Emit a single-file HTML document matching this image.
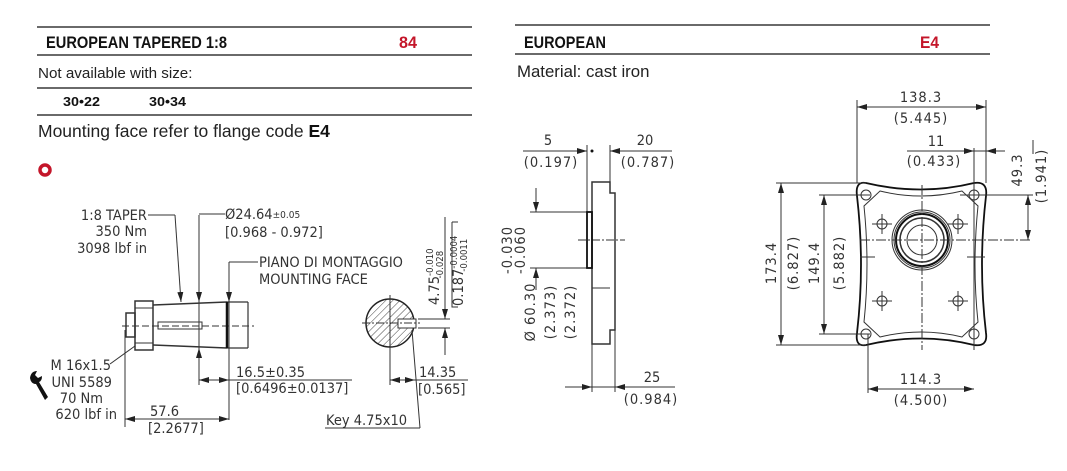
<!DOCTYPE html>
<html><head><meta charset="utf-8"><style>
html,body{margin:0;padding:0;background:#fff;}
svg{display:block;}
.h{font-family:"Liberation Sans",sans-serif;font-weight:bold;}
.t{font-family:"Liberation Sans",sans-serif;fill:#222;}
.d{font-family:"DejaVu Sans Condensed","Liberation Sans",sans-serif;fill:#333;font-size:14.5px;}
.l{stroke:#333;stroke-width:1;fill:none;}
.c{stroke:#333;stroke-width:0.8;fill:none;stroke-dasharray:8 2 2 2;}
</style></head><body>
<svg width="1067" height="471" viewBox="0 0 1067 471" xmlns="http://www.w3.org/2000/svg">
<defs>
<marker id="a" viewBox="0 0 10 6" refX="10" refY="3" markerWidth="10" markerHeight="6" orient="auto-start-reverse" markerUnits="userSpaceOnUse"><path d="M0,0 L10,3 L0,6 z" fill="#222"/></marker>
<pattern id="hp" width="5" height="5" patternUnits="userSpaceOnUse" patternTransform="rotate(45)"><line x1="0" y1="0" x2="0" y2="5" stroke="#444" stroke-width="1"/></pattern>
</defs>
<g stroke="#111" stroke-width="1.3">
<line x1="37" y1="27" x2="472" y2="27"/><line x1="37" y1="55" x2="472" y2="55"/>
<line x1="37" y1="88" x2="472" y2="88"/><line x1="37" y1="115" x2="472" y2="115"/>
<line x1="515" y1="25" x2="990" y2="25"/><line x1="515" y1="54" x2="990" y2="54"/>
</g>
<text class="h" x="46" y="48" font-size="17" textLength="181" lengthAdjust="spacingAndGlyphs" fill="#111">EUROPEAN TAPERED 1:8</text>
<text class="h" x="399" y="48" font-size="17" textLength="18" lengthAdjust="spacingAndGlyphs" fill="#c4162a">84</text>
<text class="t" x="38" y="78" font-size="15.2">Not available with size:</text>
<text class="h" x="63" y="106" font-size="13" textLength="37" lengthAdjust="spacingAndGlyphs" fill="#111">30•22</text>
<text class="h" x="149" y="106" font-size="13" textLength="37" lengthAdjust="spacingAndGlyphs" fill="#111">30•34</text>
<text class="t" x="38" y="137" font-size="17.5">Mounting face refer to flange code <tspan font-weight="bold" fill="#111">E4</tspan></text>
<circle cx="45" cy="170" r="5" fill="none" stroke="#c4162a" stroke-width="3.5"/>
<text class="h" x="524" y="48" font-size="17" textLength="82" lengthAdjust="spacingAndGlyphs" fill="#111">EUROPEAN</text>
<text class="h" x="920" y="48" font-size="17" textLength="19" lengthAdjust="spacingAndGlyphs" fill="#c4162a">E4</text>
<text class="t" x="517" y="77" font-size="16.8">Material: cast iron</text>

<!-- shaft drawing -->
<g class="l">
<rect x="126" y="313" width="9" height="24" stroke-width="1.5"/>
<rect x="135" y="301" width="18" height="49" stroke-width="1.5"/>
<line x1="135" y1="308" x2="153" y2="308"/><line x1="135" y1="343" x2="153" y2="343"/>
<path d="M153,305 L227,302 M153,345 L227,348" stroke-width="1.5"/>
<path d="M227,302 L248,302 M227,348 L248,348 M248,302 L248,348" stroke-width="1.2"/>
<rect x="158" y="322" width="44" height="7"/>
<line x1="122" y1="326" x2="254" y2="326" stroke-dasharray="7 3"/>
<line x1="199" y1="215" x2="199" y2="385"/>
<line x1="229" y1="262" x2="229" y2="420"/>
<line x1="125" y1="330" x2="125" y2="427"/>
<line x1="148" y1="215" x2="175" y2="215"/><line x1="175" y1="215" x2="181" y2="302" marker-end="url(#a)"/>
<line x1="199" y1="214" x2="225" y2="214"/>
<line x1="199" y1="230" x2="199" y2="302" marker-end="url(#a)"/>
<line x1="199" y1="372" x2="199" y2="348" marker-end="url(#a)"/>
<line x1="229" y1="262" x2="258" y2="262"/>
<line x1="229" y1="270" x2="229" y2="302" marker-end="url(#a)"/>
<line x1="199" y1="380" x2="352" y2="380"/>
<line x1="199" y1="380" x2="229" y2="380" marker-start="url(#a)" marker-end="url(#a)"/>
<line x1="125" y1="419" x2="229" y2="419" marker-start="url(#a)" marker-end="url(#a)"/>
<line x1="110" y1="364" x2="135" y2="346"/>
</g>
<line x1="227" y1="302" x2="227" y2="348" stroke="#111" stroke-width="2.5"/>
<text class="d" x="147" y="220" text-anchor="end">1:8 TAPER</text>
<text class="d" x="147" y="236" text-anchor="end">350 Nm</text>
<text class="d" x="147" y="253" text-anchor="end">3098 lbf in</text>
<text class="d" x="225" y="219">Ø24.64<tspan font-size="10" dy="-1">±0.05</tspan></text>
<text class="d" x="225" y="237">[0.968 - 0.972]</text>
<text class="d" x="259" y="267">PIANO DI MONTAGGIO</text>
<text class="d" x="259" y="284">MOUNTING FACE</text>
<text class="d" x="236" y="377">16.5±0.35</text>
<text class="d" x="236" y="393">[0.6496±0.0137]</text>
<text class="d" x="150" y="416">57.6</text>
<text class="d" x="148" y="433">[2.2677]</text>
<text class="d" x="111" y="370" text-anchor="end">M 16x1.5</text>
<text class="d" x="112" y="387" text-anchor="end">UNI 5589</text>
<text class="d" x="103" y="403" text-anchor="end">70 Nm</text>
<text class="d" x="117" y="419" text-anchor="end">620 lbf in</text>
<path d="M30,378 Q31,371 37,371 L35,375 L38,378 L42,376 Q42,381 39,382 L48,397 L45,400 L36,384 Q31,384 30,378 z" fill="#111"/>

<!-- section -->
<circle cx="390" cy="323" r="24" fill="url(#hp)" stroke="#222" stroke-width="1.5"/>
<rect x="398" y="319" width="18" height="9" fill="#fff" stroke="#333"/>
<g class="l">
<line x1="362" y1="323" x2="420" y2="323" stroke-dasharray="8 2 2 2"/>
<line x1="390" y1="295" x2="390" y2="385"/>
<line x1="418" y1="319" x2="450" y2="319"/><line x1="418" y1="328" x2="450" y2="328"/>
<line x1="445" y1="217" x2="445" y2="319" marker-end="url(#a)"/>
<line x1="445" y1="355" x2="445" y2="328" marker-end="url(#a)"/>
<path d="M452,222 L458,222 M452,222 L452,307 L458,307"/>
<line x1="390" y1="380" x2="468" y2="380"/>
<line x1="390" y1="380" x2="415" y2="380" marker-start="url(#a)" marker-end="url(#a)"/>
<line x1="412" y1="330" x2="420" y2="428"/>
<line x1="325" y1="428" x2="420" y2="428"/>
</g>
<text class="d" transform="translate(439,305) rotate(-90)">4.75<tspan font-size="9.5" dy="-6">-0.010</tspan><tspan font-size="9.5" dx="-30" dy="10">-0.028</tspan></text>
<text class="d" transform="translate(463,306) rotate(-90)">0.187<tspan font-size="9.5" dy="-6">-0.0004</tspan><tspan font-size="9.5" dx="-36" dy="10">-0.0011</tspan></text>
<text class="d" x="419" y="377">14.35</text>
<text class="d" x="418" y="394">[0.565]</text>
<text class="d" x="326" y="425">Key 4.75x10</text>

<!-- flange side view -->
<g class="l">
<path d="M592,182 L610,182 L610,193 L615,193 L615,330 L610,330 L610,344 L592,344 z" stroke-width="1.5"/>
<line x1="592" y1="288" x2="610" y2="288"/>
<line x1="578" y1="240" x2="625" y2="240" stroke-dasharray="8 2 2 2"/>
<line x1="587" y1="145" x2="587" y2="212"/><line x1="592" y1="344" x2="592" y2="392"/>
<line x1="610" y1="145" x2="610" y2="182"/><line x1="615" y1="330" x2="615" y2="392"/>
<line x1="523" y1="151" x2="587" y2="151"/><line x1="565" y1="151" x2="587" y2="151" marker-end="url(#a)"/>
<line x1="610" y1="151" x2="672" y2="151"/><line x1="632" y1="151" x2="610" y2="151" marker-end="url(#a)"/>
<line x1="565" y1="387" x2="675" y2="387"/>
<line x1="575" y1="387" x2="592" y2="387" marker-end="url(#a)"/>
<line x1="632" y1="387" x2="615" y2="387" marker-end="url(#a)"/>
<line x1="530" y1="212" x2="587" y2="212"/><line x1="530" y1="268" x2="587" y2="268"/>
<line x1="536" y1="188" x2="536" y2="212" marker-end="url(#a)"/>
<line x1="536" y1="290" x2="536" y2="268" marker-end="url(#a)"/>
</g>
<rect x="587" y="212" width="5" height="56" fill="none" stroke="#111" stroke-width="1.8"/>
<circle cx="592" cy="151" r="1.5" fill="#111"/>
<text class="d" x="548" y="145" text-anchor="middle">5</text>
<text class="d" x="551" y="167" text-anchor="middle" letter-spacing="1">(0.197)</text>
<text class="d" x="645" y="145" text-anchor="middle">20</text>
<text class="d" x="648" y="167" text-anchor="middle" letter-spacing="1">(0.787)</text>
<text class="d" x="652" y="382" text-anchor="middle">25</text>
<text class="d" x="651" y="404" text-anchor="middle" letter-spacing="1">(0.984)</text>
<text class="d" transform="translate(512,250) rotate(-90)" text-anchor="middle" letter-spacing="1">-0.030</text>
<text class="d" transform="translate(525,250) rotate(-90)" text-anchor="middle" letter-spacing="1">-0.060</text>
<text class="d" transform="translate(535,312) rotate(-90)" text-anchor="middle" letter-spacing="1">Ø 60.30</text>
<text class="d" transform="translate(555,312) rotate(-90)" text-anchor="middle" letter-spacing="1">(2.373)</text>
<text class="d" transform="translate(575,312) rotate(-90)" text-anchor="middle" letter-spacing="1">(2.372)</text>

<!-- flange front view -->
<g class="l">
<path d="M866,183 Q921,196 974,183 Q988,181 986,196 Q978,265 986,333 Q988,347 974,345 Q921,332 866,345 Q855,347 857,333 Q865,265 857,196 Q855,181 866,183 z" stroke="#111" stroke-width="1.8"/>
<path d="M880,191 Q921,201 962,191 L978,206 Q972,265 978,322 L962,337 Q921,327 880,337 L864,322 Q870,265 864,206 z" stroke-width="1"/>
<circle cx="866" cy="195" r="5"/><circle cx="974" cy="195" r="5"/>
<circle cx="866" cy="334" r="5"/><circle cx="974" cy="334" r="5"/>
<circle cx="882" cy="224" r="5"/><circle cx="958" cy="224" r="5"/>
<circle cx="882" cy="301" r="5"/><circle cx="958" cy="301" r="5"/>
<circle cx="922" cy="240" r="30"/><circle cx="922" cy="240" r="28"/>
<circle cx="922" cy="240" r="26" stroke="#111" stroke-width="2"/>
<circle cx="922" cy="240" r="22" stroke-width="1.5"/>
<circle cx="922" cy="240" r="15"/>
<path d="M872,224 L892,224 M882,214 L882,234 M948,224 L968,224 M958,214 L958,234 M872,301 L892,301 M882,291 L882,311 M948,301 L968,301 M958,291 L958,311"/>
<line x1="922" y1="185" x2="922" y2="350" stroke-dasharray="10 2 2 2"/>
<line x1="860" y1="240" x2="1032" y2="240" stroke-dasharray="10 2 2 2"/>
<path d="M860,257 L875,257 M967,257 L985,257"/>
<line x1="857" y1="100" x2="857" y2="183"/><line x1="986" y1="100" x2="986" y2="183"/>
<line x1="857" y1="107" x2="986" y2="107" marker-start="url(#a)" marker-end="url(#a)"/>
<line x1="974" y1="148" x2="974" y2="350"/>
<line x1="907" y1="151" x2="1005" y2="151"/>
<line x1="960" y1="151" x2="974" y2="151" marker-end="url(#a)"/>
<line x1="1000" y1="151" x2="986" y2="151" marker-end="url(#a)"/>
<line x1="1033" y1="140" x2="1033" y2="154"/>
<line x1="960" y1="195" x2="1033" y2="195"/>
<line x1="1028" y1="195" x2="1028" y2="240" marker-start="url(#a)" marker-end="url(#a)"/>
<line x1="776" y1="183" x2="866" y2="183"/><line x1="776" y1="345" x2="866" y2="345"/>
<line x1="781" y1="183" x2="781" y2="345" marker-start="url(#a)" marker-end="url(#a)"/>
<line x1="819" y1="195" x2="870" y2="195"/><line x1="819" y1="334" x2="870" y2="334"/>
<line x1="824" y1="195" x2="824" y2="334" marker-start="url(#a)" marker-end="url(#a)"/>
<line x1="868" y1="334" x2="868" y2="393"/>
<line x1="868" y1="389" x2="974" y2="389" marker-start="url(#a)" marker-end="url(#a)"/>
</g>
<text class="d" x="921" y="102" text-anchor="middle" letter-spacing="1">138.3</text>
<text class="d" x="921" y="123" text-anchor="middle" letter-spacing="1">(5.445)</text>
<text class="d" x="936" y="146" text-anchor="middle">11</text>
<text class="d" x="934" y="166" text-anchor="middle" letter-spacing="1">(0.433)</text>
<text class="d" transform="translate(1022,170) rotate(-90)" text-anchor="middle" letter-spacing="1">49.3</text>
<text class="d" transform="translate(1046,176) rotate(-90)" text-anchor="middle" letter-spacing="1">(1.941)</text>
<text class="d" transform="translate(776,263) rotate(-90)" text-anchor="middle" letter-spacing="1">173.4</text>
<text class="d" transform="translate(798,263) rotate(-90)" text-anchor="middle" letter-spacing="1">(6.827)</text>
<text class="d" transform="translate(819,263) rotate(-90)" text-anchor="middle" letter-spacing="1">149.4</text>
<text class="d" transform="translate(844,263) rotate(-90)" text-anchor="middle" letter-spacing="1">(5.882)</text>
<text class="d" x="921" y="384" text-anchor="middle" letter-spacing="1">114.3</text>
<text class="d" x="921" y="405" text-anchor="middle" letter-spacing="1">(4.500)</text>
</svg>
</body></html>
